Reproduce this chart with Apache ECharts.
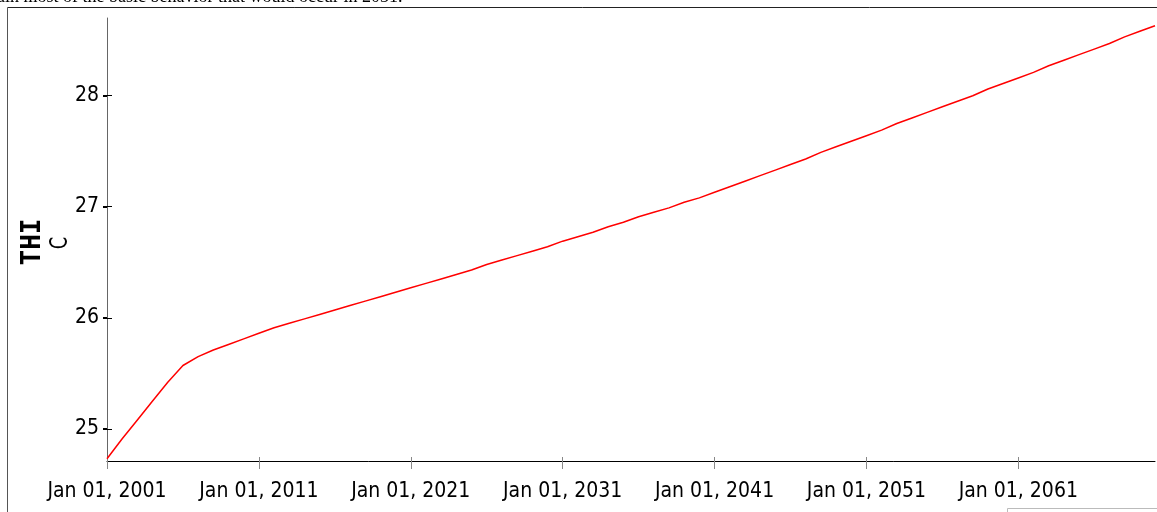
<!DOCTYPE html>
<html>
<head>
<meta charset="utf-8">
<script src="https://cdn.jsdelivr.net/npm/echarts@6/dist/echarts.min.js"></script>
<style>
  html, body { margin: 0; padding: 0; background: #fff; }
  #chart { width: 1157px; height: 512px; }
</style>
</head>
<body>
<div id="chart"></div>
<script>
// yearly THI values (C)
const years = [
  2001, 2002, 2003, 2004, 2005, 2006, 2007, 2008, 2009, 2010,
  2011, 2012, 2013, 2014, 2015, 2016, 2017, 2018, 2019, 2020,
  2021, 2022, 2023, 2024, 2025, 2026, 2027, 2028, 2029, 2030,
  2031, 2032, 2033, 2034, 2035, 2036, 2037, 2038, 2039, 2040,
  2041, 2042, 2043, 2044, 2045, 2046, 2047, 2048, 2049, 2050,
  2051, 2052, 2053, 2054, 2055, 2056, 2057, 2058, 2059, 2060,
  2061, 2062, 2063, 2064, 2065, 2066, 2067, 2068, 2069, 2070
]
const thi = [
  24.73, 24.91, 25.08, 25.25, 25.42, 25.57, 25.65, 25.71, 25.76, 25.81,
  25.86, 25.91, 25.95, 25.99, 26.03, 26.07, 26.11, 26.15, 26.19, 26.23,
  26.27, 26.31, 26.35, 26.39, 26.43, 26.48, 26.52, 26.56, 26.60, 26.64,
  26.69, 26.73, 26.77, 26.82, 26.86, 26.91, 26.95, 26.99, 27.04, 27.08,
  27.13, 27.18, 27.23, 27.28, 27.33, 27.38, 27.43, 27.49, 27.54, 27.59,
  27.64, 27.69, 27.75, 27.80, 27.85, 27.90, 27.95, 28.00, 28.06, 28.11,
  28.16, 28.21, 28.27, 28.32, 28.37, 28.42, 28.47, 28.53, 28.58, 28.63
]
const xTicks = [2001, 2011, 2021, 2031, 2041, 2051, 2061]
const yTicks = [25, 26, 27, 28]

const labelFont = { fontFamily: 'DejaVu Sans Condensed', fontSize: 21, color: '#000' }

const chart = echarts.init(document.getElementById('chart'))
chart.setOption({
  animation: false,
  grid: { left: 107, right: 2, top: 18, bottom: 51 },
  xAxis: [
    {
      type: 'value', min: 2001, max: 2070,
      axisLine: { lineStyle: { color: '#000', width: 1 } },
      axisTick: { customValues: xTicks, length: 8, lineStyle: { color: '#888' } },
      axisLabel: Object.assign({ customValues: xTicks, margin: 20, formatter: (v) => 'Jan 01, ' + v }, labelFont),
      splitLine: { show: false }
    },
    {
      type: 'value', min: 2001, max: 2070, position: 'bottom',
      axisLine: { show: false },
      axisTick: { customValues: xTicks, inside: true, length: 4, lineStyle: { color: '#888' } },
      axisLabel: { show: false },
      splitLine: { show: false }
    }
  ],
  yAxis: [
    {
      type: 'value', min: 24.71, max: 28.70,
      axisLine: { show: true, lineStyle: { color: '#666', width: 1 } },
      axisTick: { customValues: yTicks, length: 4, lineStyle: { color: '#000', width: 2 } },
      axisLabel: Object.assign({ customValues: yTicks, margin: 8 }, labelFont),
      splitLine: { show: false }
    },
    {
      type: 'value', min: 24.71, max: 28.70, position: 'left',
      axisLine: { show: false },
      axisTick: { customValues: yTicks, inside: true, length: 5, lineStyle: { color: '#000', width: 1 } },
      axisLabel: { show: false },
      splitLine: { show: false }
    }
  ],
  series: [
    {
      type: 'line',
      data: years.map((y, i) => [y, thi[i]]),
      showSymbol: false,
      lineStyle: { color: '#ff0000', width: 1.5 },
      xAxisIndex: 0,
      yAxisIndex: 0
    }
  ],
  graphic: [
    { type: 'line', shape: { x1: 7.5, y1: 7.5, x2: 1157, y2: 7.5 }, style: { stroke: '#222', lineWidth: 1 } },
    { type: 'line', shape: { x1: 7.5, y1: 7.5, x2: 7.5, y2: 512 }, style: { stroke: '#555', lineWidth: 1 } },
    {
      type: 'text', x: -3, y: 6,
      style: { text: 'ain most of the basic behavior that would occur in 2031.', font: '18px "Liberation Serif"', fill: '#000', verticalAlign: 'bottom' }
    },
    {
      type: 'text', x: 33, y: 242, rotation: Math.PI / 2,
      style: { text: 'THI', font: 'bold 26px "DejaVu Sans Mono"', fill: '#000', align: 'center', verticalAlign: 'middle' }
    },
    {
      type: 'text', x: 61, y: 243, rotation: Math.PI / 2, scaleX: 0.75,
      style: { text: 'C', font: '24px "DejaVu Sans"', fill: '#000', align: 'center', verticalAlign: 'middle' }
    },
    {
      type: 'rect', shape: { x: 1007.5, y: 508.5, width: 160, height: 20 },
      style: { fill: '#fff', stroke: '#bbb', lineWidth: 1 }
    }
  ]
})
</script>
</body>
</html>
